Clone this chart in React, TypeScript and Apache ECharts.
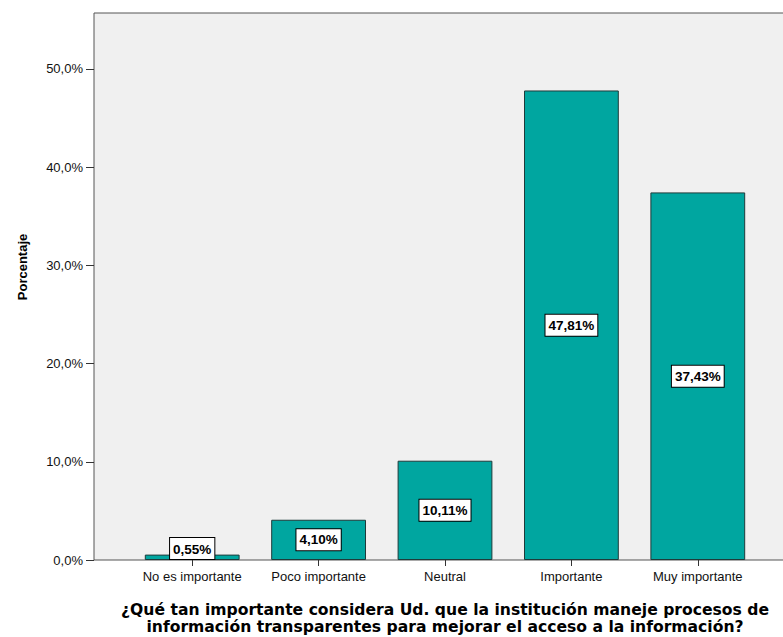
import React, { useEffect, useRef } from "react";
import * as echarts from "echarts";

const categories = ["No es importante", "Poco importante", "Neutral", "Importante", "Muy importante"];
const percentages = [0.55, 4.10, 10.11, 47.81, 37.43];
const yTicks = [0, 10, 20, 30, 40, 50];
const yAxisTitle = "Porcentaje";
const xAxisTitle = "¿Qué tan importante considera Ud. que la institución maneje procesos de\ninformación transparentes para mejorar el acceso a la información?";

const fmt = (v: number, d: number) => v.toFixed(d).replace(".", ",") + "%";

export default function App() {
  const ref = useRef<HTMLDivElement>(null);
  useEffect(() => {
    if (!ref.current) return;
    const chart = echarts.init(ref.current, undefined, { renderer: "svg" });
    chart.setOption({
      animation: false,
      backgroundColor: "#ffffff",
      grid: { left: 129, right: 22, top: 13, bottom: 77, outerBoundsMode: "none", containLabel: false },
      graphic: [
        {
          type: "rect",
          z: -10,
          shape: { x: 94, y: 13, width: 720, height: 547 },
          style: { fill: "#F0F0F0", stroke: "#555555", lineWidth: 1 },
        },
        {
          type: "text",
          x: 22,
          y: 267,
          rotation: Math.PI / 2,
          style: {
            text: yAxisTitle,
            fontFamily: "Liberation Sans",
            fontWeight: "bold",
            fontSize: 13,
            fill: "#000",
            align: "center",
            verticalAlign: "middle",
          },
        },
      ],
      xAxis: {
        type: "category",
        data: categories,
        axisLine: { show: false },
        axisTick: { show: true, alignWithLabel: true, length: 6, lineStyle: { color: "#333" } },
        axisLabel: {
          interval: 0,
          hideOverlap: false,
          color: "#111",
          fontFamily: "Liberation Sans",
          fontSize: 13,
          margin: 10,
        },
        name: xAxisTitle,
        nameLocation: "middle",
        nameGap: 41,
        nameTextStyle: {
          fontFamily: "DejaVu Sans",
          fontWeight: "bold",
          fontSize: 15.6,
          color: "#000",
          lineHeight: 17,
          align: "center",
        },
      },
      yAxis: {
        type: "value",
        min: 0,
        max: 55.7,
        interval: 10,
        offset: 35,
        axisLine: { show: false },
        axisTick: { show: true, length: 8, customValues: yTicks, lineStyle: { color: "#333" } },
        axisLabel: {
          customValues: yTicks,
          formatter: (v: number) => fmt(v, 1),
          color: "#111",
          fontFamily: "Liberation Sans",
          fontSize: 13,
          margin: 11,
        },
        splitLine: { show: false },
      },
      series: [
        {
          type: "bar",
          barWidth: "75%",
          data: percentages.map((v, i) =>
            i === 0
              ? { value: v, label: { position: "insideBottom", distance: 1 } }
              : { value: v }
          ),
          itemStyle: { color: "#00A6A0", borderColor: "#1E3B3A", borderWidth: 1 },
          label: {
            show: true,
            position: "inside",
            formatter: (p: any) => fmt(p.value, 2),
            backgroundColor: "#ffffff",
            borderColor: "#000",
            borderWidth: 1,
            padding: [4, 3, 3, 3],
            color: "#000",
            fontFamily: "Liberation Sans",
            fontWeight: "bold",
            fontSize: 13.5,
          },
        },
      ],
    });
    return () => chart.dispose();
  }, []);
  return <div ref={ref} style={{ position: "fixed", left: 0, top: 0, width: 783, height: 637 }} />;
}
